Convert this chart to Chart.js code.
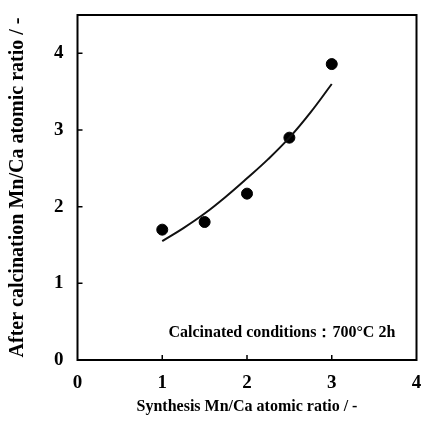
<!DOCTYPE html>
<html lang="en">
  <head>
    <meta charset="UTF-8" />
    <title>Mn/Ca atomic ratio</title>
    <script src="https://cdn.jsdelivr.net/npm/chart.js"></script>
    <style>
      html, body { margin: 0; padding: 0; background: #fff; }
      #wrap { width: 423px; height: 430px; }
    </style>
  </head>
  <body>
    <div id="wrap"><canvas id="myChart"></canvas></div>
    <script>
      // measured points
      const synthRatio = [1, 1.5, 2, 2.5, 3];
      const calcRatio = [1.7, 1.8, 2.17, 2.9, 3.86];

      // trend curve
      const curveX = [1, 1.25, 1.5, 1.75, 2, 2.25, 2.5, 2.75, 3];
      const curveY = [1.55, 1.72, 1.91, 2.13, 2.37, 2.62, 2.9, 3.23, 3.6];

      const xTicks = [0, 1, 2, 3, 4];
      const yTicks = [0, 1, 2, 3, 4];
      const note = 'Calcinated conditions\uFF1A700\u00B0C 2h';

      const serif = '"Liberation Serif", "Times New Roman", serif';

      const frame = {
        id: 'frame',
        afterDraw(chart) {
          const c = chart.ctx;
          const a = chart.chartArea;
          const xs = chart.scales.x;
          const ys = chart.scales.y;
          c.save();
          c.strokeStyle = '#000';
          c.lineWidth = 2;
          c.strokeRect(a.left, a.top, a.right - a.left, a.bottom - a.top);
          // inward tick marks
          c.lineWidth = 1.5;
          c.beginPath();
          [1, 2, 3].forEach((v) => {
            const px = xs.getPixelForValue(v);
            c.moveTo(px, a.bottom);
            c.lineTo(px, a.bottom - 5);
          });
          [1, 2, 3, 4].forEach((v) => {
            const py = ys.getPixelForValue(v);
            c.moveTo(a.left, py);
            c.lineTo(a.left + 5, py);
          });
          c.stroke();
          // note text
          c.fillStyle = '#000';
          c.font = 'bold 16px ' + serif;
          c.textAlign = 'right';
          c.textBaseline = 'middle';
          c.fillText(note, xs.getPixelForValue(3.75), ys.getPixelForValue(0.35));
          c.restore();
        },
      };

      new Chart(document.getElementById('myChart'), {
        type: 'scatter',
        data: {
          datasets: [
            {
              label: 'fit',
              data: curveX.map((x, i) => ({ x: x, y: curveY[i] })),
              showLine: true,
              borderColor: '#111',
              borderWidth: 2,
              pointRadius: 0,
              tension: 0.4,
            },
            {
              label: 'measured',
              data: synthRatio.map((x, i) => ({ x: x, y: calcRatio[i] })),
              backgroundColor: '#000',
              borderColor: '#000',
              pointRadius: 5.5,
            },
          ],
        },
        options: {
          responsive: true,
          maintainAspectRatio: false,
          animation: false,
          layout: { padding: { top: 15, right: 0, left: 6, bottom: 14 } },
          plugins: { legend: { display: false }, tooltip: { enabled: false } },
          scales: {
            x: {
              type: 'linear',
              min: 0,
              max: 4,
              afterBuildTicks: (s) => { s.ticks = xTicks.map((v) => ({ value: v })); },
              // hidden tick length pushes labels down without widening the right padding
              grid: { display: false, drawTicks: true, tickLength: 11 },
              border: { display: false },
              ticks: {
                color: '#000',
                padding: 1,
                font: { family: serif, size: 19, weight: 'bold' },
              },
              title: {
                display: true,
                text: 'Synthesis Mn/Ca atomic ratio / -',
                color: '#000',
                padding: { top: 1, bottom: 0 },
                font: { family: serif, size: 16, weight: 'bold' },
              },
            },
            y: {
              type: 'linear',
              min: 0,
              max: 4.5,
              afterBuildTicks: (s) => { s.ticks = yTicks.map((v) => ({ value: v })); },
              grid: { display: false, drawTicks: false },
              border: { display: false },
              ticks: {
                color: '#000',
                padding: 14,
                font: { family: serif, size: 19, weight: 'bold', lineHeight: 0.1 },
              },
              title: {
                display: true,
                text: 'After calcination Mn/Ca atomic ratio / -',
                color: '#000',
                padding: { top: 0, bottom: 10 },
                font: { family: serif, size: 20, weight: 'bold' },
              },
            },
          },
        },
        plugins: [frame],
      });
    </script>
  </body>
</html>
